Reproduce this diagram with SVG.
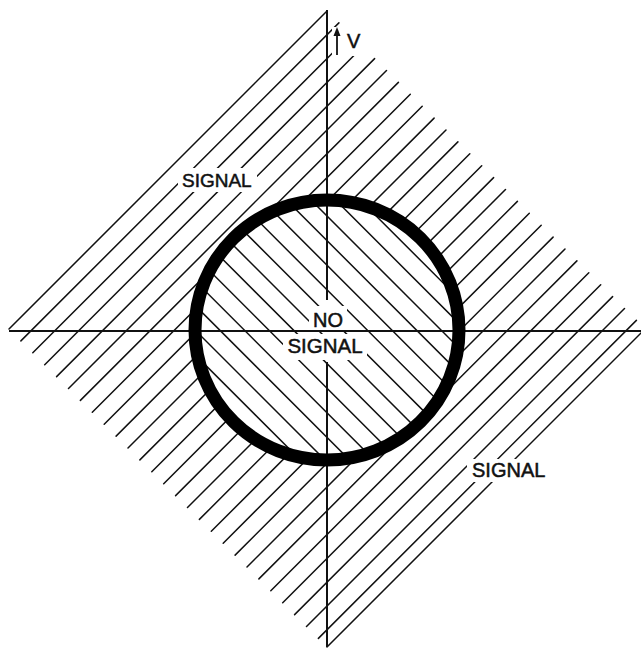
<svg xmlns="http://www.w3.org/2000/svg" width="641" height="648" viewBox="0 0 641 648">
<style>
.h{stroke:#111;stroke-width:1.5;fill:none;stroke-linecap:round}
.ax{stroke:#111;stroke-width:2;fill:none}
.t{font-family:"Liberation Sans",Arial,sans-serif;fill:#111;stroke:#111;stroke-width:0.5}
.bg{fill:#fff}
</style>
<defs>
<mask id="outside">
<rect x="0" y="0" width="641" height="648" fill="#fff"/>
<ellipse cx="327" cy="330" rx="128" ry="126" fill="#000"/>
</mask>
<clipPath id="inside">
<ellipse cx="327" cy="330" rx="128" ry="126"/>
</clipPath>
</defs>
<rect width="641" height="648" fill="#fff"/>
<g id="outer-hatch" class="h" mask="url(#outside)">
<path d="M9,329L327,11M20.9,340.9L338.9,22.9M32.8,352.8L350.8,34.8M44.7,364.7L362.7,46.7M56.6,376.6L374.6,58.6M68.5,388.5L386.5,70.5M80.4,400.4L398.4,82.4M92.3,412.3L410.3,94.3M104.2,424.2L422.2,106.2M116.1,436.1L434.1,118.1M128,448L446,130M139.9,459.9L457.9,141.9M151.8,471.8L469.8,153.8M163.7,483.7L481.7,165.7M175.6,495.6L493.6,177.6M187.5,507.5L505.5,189.5M199.4,519.4L517.4,201.4M211.3,531.3L529.3,213.3M223.2,543.2L541.2,225.2M235.1,555.1L553.1,237.1M247,567L565,249M258.9,578.9L576.9,260.9M270.8,590.8L588.8,272.8M282.7,602.7L600.7,284.7M294.6,614.6L612.6,296.6M306.5,626.5L624.5,308.5M318.4,638.4L636.4,320.4M327,647L645,329"/>
</g>
<g id="inner-hatch" class="h" clip-path="url(#inside)">
<path d="M150,334.2L510,694.2M150,309.6L510,669.6M150,285L510,645M150,260.4L510,620.4M150,235.8L510,595.8M150,211.2L510,571.2M150,186.6L510,546.6M150,162L510,522M150,137.4L510,497.4M150,112.8L510,472.8M150,88.2L510,448.2M150,63.6L510,423.6M150,39L510,399M150,14.4L510,374.4M150,-10.2L510,349.8"/>
</g>
<g id="label-backgrounds" class="bg">
<rect x="178" y="168" width="79" height="24"/>
<rect x="467" y="459" width="85" height="23"/>
<rect x="309" y="306" width="38" height="24"/>
<rect x="283" y="334" width="84" height="26"/>
<rect x="332" y="27" width="33" height="29"/>
</g>
<g id="connectors">
<path class="ax" d="M327,10V300M327,362V647"/>
<path class="ax" d="M9,331H641"/>
</g>
<g id="boundary-circle">
<ellipse cx="327" cy="330" rx="132" ry="130" fill="none" stroke="#000" stroke-width="13"/>
</g>
<g id="v-axis-label">
<path d="M337,55V34" stroke="#111" stroke-width="1.8"/>
<path d="M337,27L340.5,36H333.5Z" fill="#111"/>
<text class="t" x="347" y="48" font-size="20">V</text>
</g>
<g id="signal-upper">
<text class="t" x="182" y="187" font-size="19">SIGNAL</text>
</g>
<g id="no-signal">
<text class="t" x="328" y="327" font-size="20" text-anchor="middle">NO</text>
<text class="t" x="325" y="353" font-size="20.5" text-anchor="middle">SIGNAL</text>
</g>
<g id="signal-lower">
<text class="t" x="472" y="477" font-size="20">SIGNAL</text>
</g>
</svg>
